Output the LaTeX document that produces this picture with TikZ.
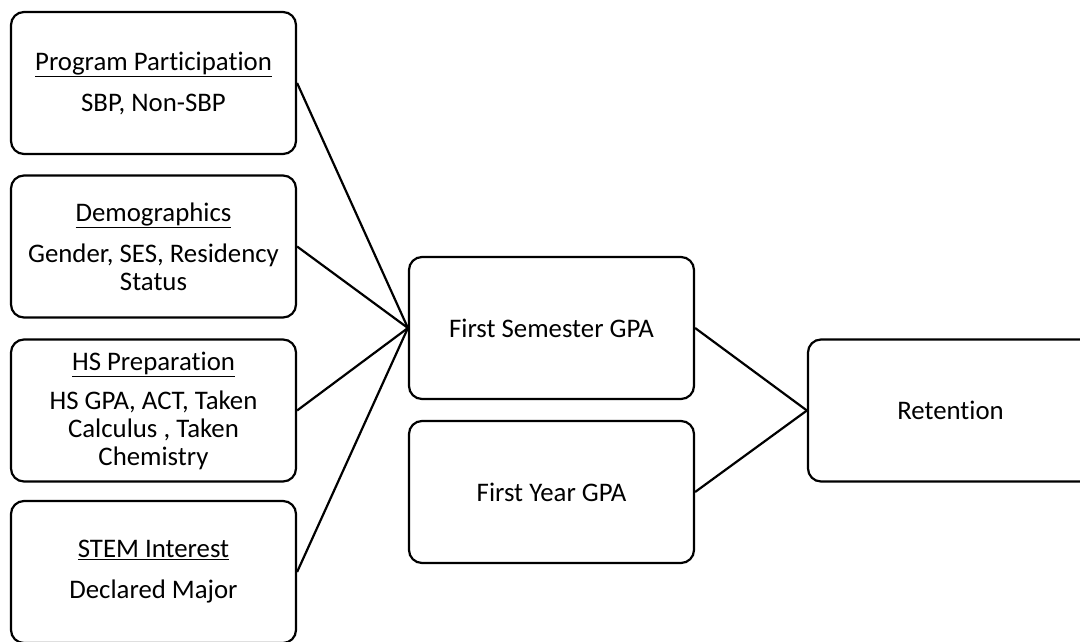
\documentclass[tikz,border=0pt]{standalone}
\usepackage{fontspec}
\setmainfont{Carlito}[Ligatures=NoCommon]
\begin{document}
\begin{tikzpicture}[x=1pt,y=-1pt,
  box/.style={draw=black, line width=2.2pt, rounded corners=13pt,
    minimum width=285pt, minimum height=142pt, align=center,
    font=\fontsize{26.8}{28}\selectfont, inner sep=0pt},
  conn/.style={draw=black, line width=2.2pt}]
\useasboundingbox (0,0) rectangle (1080,642);
\clip (0,0) rectangle (1080,642);
\node[box] (pp) at (153.5,83) {\underline{Program Participation}\\[13pt]SBP, Non-SBP};
\node[box] (dem) at (153.5,246.5) {\underline{Demographics}\\[13pt]Gender, SES, Residency\\Status};
\node[box] (hs) at (153.5,410.5) {\underline{HS Preparation}\\[11pt]HS GPA, ACT, Taken\\Calculus , Taken\\Chemistry};
\node[box] (stem) at (153.5,572) {\underline{STEM Interest}\\[13pt]Declared Major};
\node[box] (fsg) at (551.5,328) {First Semester GPA};
\node[box] (fyg) at (551.5,492) {First Year GPA};
\node[box] (ret) at (950.5,410.5) {Retention};
\draw[conn] (pp.east) -- (fsg.west);
\draw[conn] (dem.east) -- (fsg.west);
\draw[conn] (hs.east) -- (fsg.west);
\draw[conn] (stem.east) -- (fsg.west);
\draw[conn] (fsg.east) -- (ret.west);
\draw[conn] (fyg.east) -- (ret.west);
\end{tikzpicture}
\end{document}
